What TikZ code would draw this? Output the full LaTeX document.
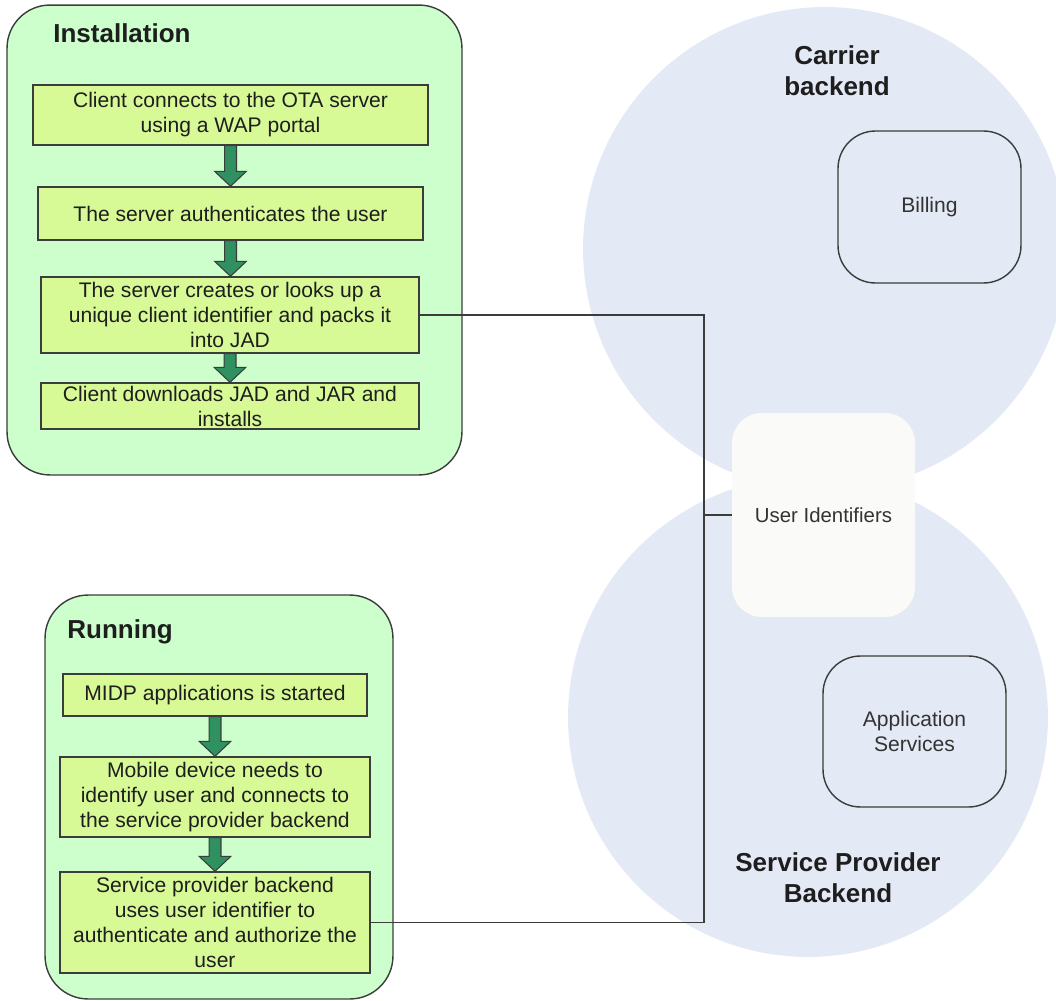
\documentclass[tikz,border=0pt]{standalone}
\usepackage{fontspec}
\setmainfont{Liberation Sans}
\usetikzlibrary{calc}

\definecolor{phasefill}{HTML}{CCFFCC}
\definecolor{stepfill}{HTML}{D8FA96}
\definecolor{edgegray}{HTML}{3C3C3C}
\definecolor{flowgreen}{HTML}{2F9060}
\definecolor{zonefill}{HTML}{E4EAF5}
\definecolor{storefill}{HTML}{FAFAF8}
\definecolor{inktext}{HTML}{1E1E1E}
\definecolor{softtext}{HTML}{333333}

\tikzset{
  phase/.style={draw=edgegray, line width=0.8pt, fill=phasefill,
    rounded corners=0.86cm, inner sep=0pt},
  stepbox/.style={draw=edgegray, line width=0.8pt, fill=stepfill,
    inner sep=0pt, align=center, text=inktext,
    font=\fontsize{12}{14.2}\selectfont},
  heading/.style={font=\fontsize{14.8}{17.6}\selectfont\bfseries,
    text=inktext, align=center, inner sep=0pt},
  zone/.style={circle, fill=zonefill, inner sep=0pt},
  service/.style={draw=edgegray, line width=0.8pt, rounded corners=0.75cm,
    inner sep=0pt, align=center, text=softtext,
    font=\fontsize{12}{14.6}\selectfont},
  store/.style={fill=storefill, rounded corners=0.6cm, inner sep=0pt,
    align=center, text=softtext, font=\fontsize{11.6}{14}\selectfont},
  link/.style={draw=edgegray, line width=1pt},
  flowarrow/.style={draw=edgegray, line width=0.6pt, fill=flowgreen,
    line join=miter}
}

% block arrow from the bottom of one step to the top of the next
\newcommand\flowarrow[2]{%
  \draw[flowarrow] let \p1=(#1.south), \p2=(#2.north) in
    (\x1-3.4pt,\y1) -- (\x1-3.4pt,\y2+8.5pt) -- (\x1-9pt,\y2+8.5pt)
    -- (\x1,\y2) -- (\x1+9pt,\y2+8.5pt) -- (\x1+3.4pt,\y2+8.5pt)
    -- (\x1+3.4pt,\y1) -- cycle;}

\begin{document}
\begin{tikzpicture}[x=0.02cm, y=-0.02cm]
\useasboundingbox (0,0) rectangle (1056,1001);
\clip (0,0) rectangle (1056,1001);

% backend zones
\node[zone, minimum size=9.68cm] (carrier) at (825,249) {};
\node[zone, minimum size=9.6cm] (provider) at (808,717) {};
\node[heading] (carriertitle) at (837,71) {Carrier\\backend};
\node[heading] (providertitle) at (838,877.5) {Service Provider\\Backend};

\node[store, minimum width=3.66cm, minimum height=4.08cm] (uid) at (823.5,515) {User Identifiers};
\node[service, minimum width=3.66cm, minimum height=3.04cm] (billing) at (929.5,207) {Billing};
\node[service, minimum width=3.66cm, minimum height=3.02cm] (apps) at (914.5,731.5) {Application\\Services};

% installation phase
\node[phase, minimum width=9.1cm, minimum height=9.4cm] (install) at (234.5,240) {};
\node[heading, anchor=west] (installtitle) at (53,33) {Installation};
\node[stepbox, minimum width=7.9cm, minimum height=1.2cm] (i1) at (230.5,115)
  {Client connects to the OTA server\\using a WAP portal};
\node[stepbox, minimum width=7.7cm, minimum height=1.06cm] (i2) at (230.5,213.5)
  {The server authenticates the user};
\node[stepbox, minimum width=7.56cm, minimum height=1.52cm] (i3) at (230,315)
  {The server creates or looks up a\\unique client identifier and packs it\\into JAD};
\node[stepbox, minimum width=7.56cm, minimum height=0.92cm] (i4) at (230,406)
  {Client downloads JAD and JAR and\\installs};
\flowarrow{i1}{i2}
\flowarrow{i2}{i3}
\flowarrow{i3}{i4}

% running phase
\node[phase, minimum width=6.96cm, minimum height=8.08cm] (running) at (219,797) {};
\node[heading, anchor=west] (runningtitle) at (67,632) {Running};
\node[stepbox, minimum width=6.08cm, minimum height=0.84cm] (r1) at (215,695)
  {MIDP applications is started};
\node[stepbox, minimum width=6.2cm, minimum height=1.6cm] (r2) at (215,797)
  {Mobile device needs to\\identify user and connects to\\the service provider backend};
\node[stepbox, minimum width=6.2cm, minimum height=2.02cm] (r3) at (215,922.5)
  {Service provider backend\\uses user identifier to\\authenticate and authorize the\\user};
\flowarrow{r1}{r2}
\flowarrow{r2}{r3}

% identifier bus
\coordinate (bus) at (704,515);
\draw[link] (i3.east) -| (bus) |- (r3.east);
\draw[link] (bus) -- (uid.west);
\end{tikzpicture}
\end{document}
